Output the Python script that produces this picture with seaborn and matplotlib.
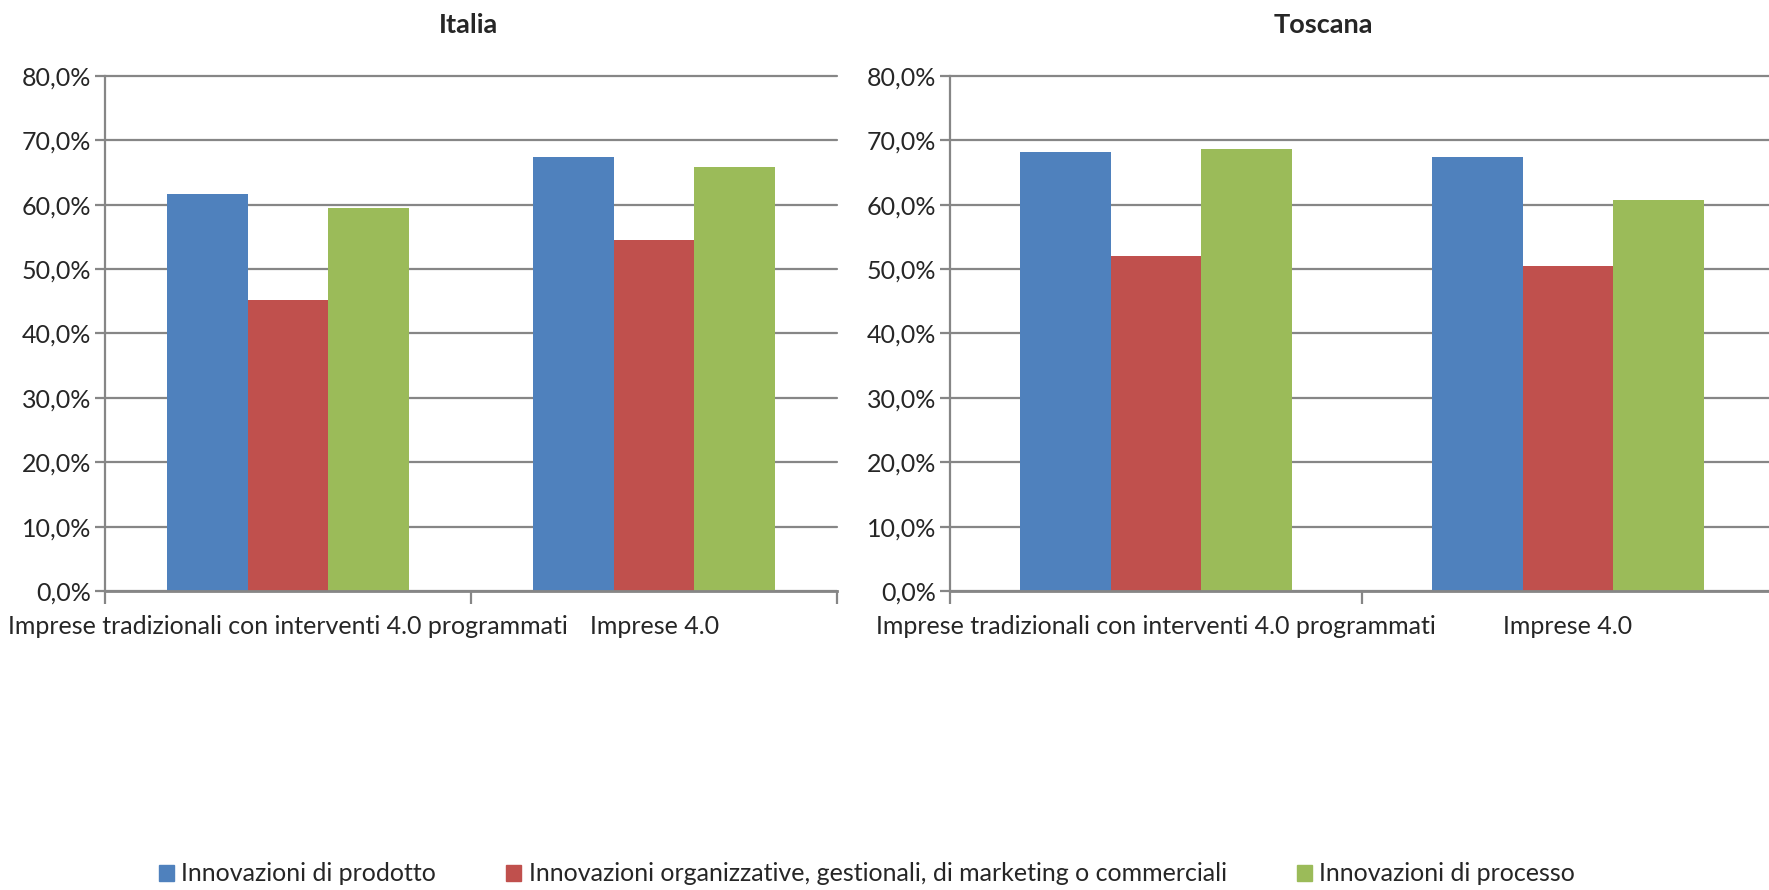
#!/usr/bin/env python3
# -*- coding: utf-8 -*-
import matplotlib
matplotlib.use("Agg")
import matplotlib.pyplot as plt
from matplotlib.ticker import FuncFormatter, FixedLocator
import pandas as pd
import seaborn as sns

# dati (%)
categorie = ["Imprese tradizionali con interventi 4.0 programmati", "Imprese 4.0"]
serie = ["Innovazioni di prodotto",
         "Innovazioni organizzative, gestionali, di marketing o commerciali",
         "Innovazioni di processo"]
italia_prodotto = [61.7, 67.4]
italia_organizz = [45.2, 54.5]
italia_processo = [59.5, 65.9]
toscana_prodotto = [68.2, 67.4]
toscana_organizz = [52.0, 50.5]
toscana_processo = [68.7, 60.7]
colori = ["#4F81BD", "#C0504D", "#9BBB59"]


def make_df(prod, org, proc):
    rows = []
    for s, vals in zip(serie, [prod, org, proc]):
        for c, v in zip(categorie, vals):
            rows.append({"categoria": c, "serie": s, "valore": v})
    return pd.DataFrame(rows)


sns.set_style("white")
plt.rcParams['font.family'] = ['Lato', 'DejaVu Sans']

fig = plt.figure(figsize=(17.69, 8.90), dpi=100)
ax1 = fig.add_axes([0.0594, 0.336, 0.4138, 0.5787])
ax2 = fig.add_axes([0.537, 0.336, 0.4658, 0.5787])

grigio = "#868686"
pct = FuncFormatter(lambda v, p: f"{v:.1f}%".replace(".", ","))
fs = 18

for ax, df in [(ax1, make_df(italia_prodotto, italia_organizz, italia_processo)),
               (ax2, make_df(toscana_prodotto, toscana_organizz, toscana_processo))]:
    sns.barplot(data=df, x="categoria", y="valore", hue="serie", order=categorie,
                hue_order=serie, palette=colori, width=0.66, ax=ax,
                saturation=1, legend=False, linewidth=0)
    ax.set_xlim(-0.5, 1.5)
    ax.set_ylim(0, 80)
    ax.set_yticks(range(0, 81, 10))
    ax.yaxis.set_major_formatter(pct)
    ax.grid(axis="y", color=grigio, linewidth=1.6)
    for gl in ax.get_ygridlines():
        gl.set_clip_on(False)
    ax.set_axisbelow(True)
    for s in ["top", "right"]:
        ax.spines[s].set_visible(False)
    ax.spines["left"].set_color(grigio)
    ax.spines["left"].set_linewidth(1.6)
    ax.spines["bottom"].set_color(grigio)
    ax.spines["bottom"].set_linewidth(2)
    ax.set_xlabel("")
    ax.set_ylabel("")
    ax.tick_params(axis="y", left=True, length=7, width=1.6, color=grigio,
                   labelsize=fs, pad=3)
    ax.tick_params(axis="x", which="major", length=0, labelsize=fs, pad=17)
    ax.xaxis.set_minor_locator(FixedLocator([-0.5, 0.5, 1.5]))
    ax.tick_params(axis="x", which="minor", bottom=True, length=9, width=1.6,
                   color=grigio, direction="out")

fig.text(0.2646, 0.972, "Italia", ha="center", va="center", fontsize=19.5,
         fontweight="bold")
fig.text(0.748, 0.972, "Toscana", ha="center", va="center", fontsize=19.5,
         fontweight="bold")

handles = [plt.Rectangle((0, 0), 1, 1, color=c) for c in colori]
fig.legend(handles, serie, loc="center", bbox_to_anchor=(0.49, 0.018), ncol=3,
           frameon=False, fontsize=fs, handlelength=0.6, handleheight=0.6,
           handletextpad=0.3, columnspacing=2.8)

fig.savefig("out.png", dpi=100)
plt.close(fig)
